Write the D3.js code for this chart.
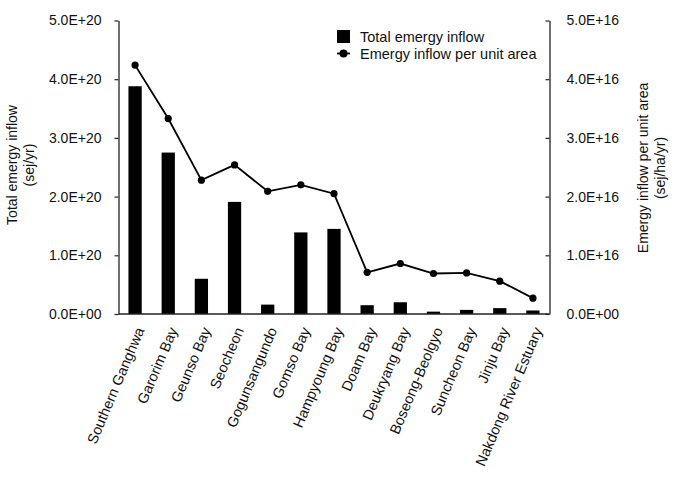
<!DOCTYPE html>
<html>
<head>
<meta charset="utf-8">
<script src="https://cdn.jsdelivr.net/npm/d3@7"></script>
<style>
  body { margin: 0; background: #fff; }
  text { font-family: "Liberation Sans", Arial, sans-serif; fill: #111; }
</style>
</head>
<body>
<svg width="674" height="480"></svg>
<script>
(function (d3) {
    const sites = ['Southern Ganghwa', 'Garorim Bay', 'Geunso Bay', 'Seocheon', 'Gogunsangundo',
        'Gomso Bay', 'Hampyoung Bay', 'Doam Bay', 'Deukryang Bay', 'Boseong-Beolgyo',
        'Suncheon Bay', 'Jinju Bay', 'Nakdong River Estuary'];
    // sej/yr
    const totalInflow = [3.88e20, 2.75e20, 0.60e20, 1.91e20, 0.16e20, 1.39e20, 1.45e20,
        0.15e20, 0.20e20, 0.04e20, 0.07e20, 0.10e20, 0.06e20];
    // sej/ha/yr
    const perArea = [4.24e16, 3.33e16, 2.28e16, 2.54e16, 2.09e16, 2.20e16, 2.05e16,
        0.71e16, 0.86e16, 0.69e16, 0.70e16, 0.56e16, 0.27e16];
    const leftTicks = [0, 1e20, 2e20, 3e20, 4e20, 5e20];
    const rightTicks = [0, 1e16, 2e16, 3e16, 4e16, 5e16];

    const svg = d3.select('svg');
    const left = 118.5, right = 549.5, top = 20.5, bottom = 314;

    const x = d3.scaleBand().domain(sites).range([left, right])
        .paddingInner(0.6).paddingOuter(0.3);
    const yL = d3.scaleLinear().domain([0, 5e20]).range([bottom, top]);
    const yR = d3.scaleLinear().domain([0, 5e16]).range([bottom, top]);

    // 5.0E+20 style
    const sci = d => {
        const [m, e] = d.toExponential(1).split('e');
        const ex = +e;
        return m + 'E' + (ex < 0 ? '-' : '+') + String(Math.abs(ex)).padStart(2, '0');
    };

    // bars
    svg.append('g').selectAll('rect')
        .data(sites)
        .join('rect')
        .attr('x', d => x(d))
        .attr('width', x.bandwidth())
        .attr('y', (d, i) => yL(totalInflow[i]))
        .attr('height', (d, i) => bottom - yL(totalInflow[i]))
        .attr('fill', '#000');

    // axes
    const axisL = svg.append('g')
        .attr('transform', `translate(${left},0)`)
        .call(d3.axisLeft(yL).tickValues(leftTicks).tickFormat(sci).tickSize(4).tickPadding(13).tickSizeOuter(0));
    const axisR = svg.append('g')
        .attr('transform', `translate(${right},0)`)
        .call(d3.axisRight(yR).tickValues(rightTicks).tickFormat(sci).tickSize(-4).tickPadding(17).tickSizeOuter(0));
    [axisL, axisR].forEach(a => {
        a.select('.domain').attr('stroke', '#222').attr('stroke-width', 1.3);
        a.selectAll('.tick line').attr('stroke', '#222').attr('stroke-width', 1.2);
        a.selectAll('.tick text').attr('font-size', 14).attr('font-family', '"Liberation Sans", Arial, sans-serif').attr('fill', '#111');
    });

    svg.append('line')
        .attr('x1', left).attr('x2', right)
        .attr('y1', bottom).attr('y2', bottom)
        .attr('stroke', '#222').attr('stroke-width', 1.3);

    // line series
    const line = d3.line()
        .x((d, i) => x(sites[i]) + x.bandwidth() / 2)
        .y(d => yR(d));
    svg.append('path')
        .datum(perArea)
        .attr('d', line)
        .attr('fill', 'none')
        .attr('stroke', '#000')
        .attr('stroke-width', 1.8);
    svg.append('g').selectAll('circle')
        .data(perArea)
        .join('circle')
        .attr('cx', (d, i) => x(sites[i]) + x.bandwidth() / 2)
        .attr('cy', d => yR(d))
        .attr('r', 3.6)
        .attr('fill', '#000');

    // category labels
    svg.append('g').selectAll('text')
        .data(sites)
        .join('text')
        .attr('transform', d => `translate(${x(d) + x.bandwidth() / 2 + 5},${bottom + 14}) rotate(-67)`)
        .attr('text-anchor', 'end')
        .attr('dy', '0.35em')
        .attr('font-size', 14.5)
        .text(d => d);

    // axis titles
    const tL = svg.append('text')
        .attr('transform', 'translate(17,165) rotate(-90)')
        .attr('text-anchor', 'middle')
        .attr('font-size', 14);
    tL.append('tspan').attr('x', 0).text('Total emergy inflow');
    tL.append('tspan').attr('x', 0).attr('dy', 17).text('(sej/yr)');

    const tR = svg.append('text')
        .attr('transform', 'translate(648,168) rotate(-90)')
        .attr('text-anchor', 'middle')
        .attr('font-size', 14);
    tR.append('tspan').attr('x', 0).text('Emergy inflow per unit area');
    tR.append('tspan').attr('x', 0).attr('dy', 17).text('(sej/ha/yr)');

    // legend
    const lg = svg.append('g').attr('transform', 'translate(337,30)');
    lg.append('rect').attr('width', 13).attr('height', 13).attr('fill', '#000');
    lg.append('text').attr('x', 23).attr('y', 6.5).attr('dy', '0.35em')
        .attr('font-size', 14.5).text('Total emergy inflow');
    lg.append('line').attr('x1', 0).attr('x2', 13).attr('y1', 23.5).attr('y2', 23.5)
        .attr('stroke', '#000').attr('stroke-width', 1.8);
    lg.append('circle').attr('cx', 6.5).attr('cy', 23.5).attr('r', 4).attr('fill', '#000');
    lg.append('text').attr('x', 23).attr('y', 23.5).attr('dy', '0.35em')
        .attr('font-size', 14.5).text('Emergy inflow per unit area');
}(d3));
</script>
</body>
</html>
